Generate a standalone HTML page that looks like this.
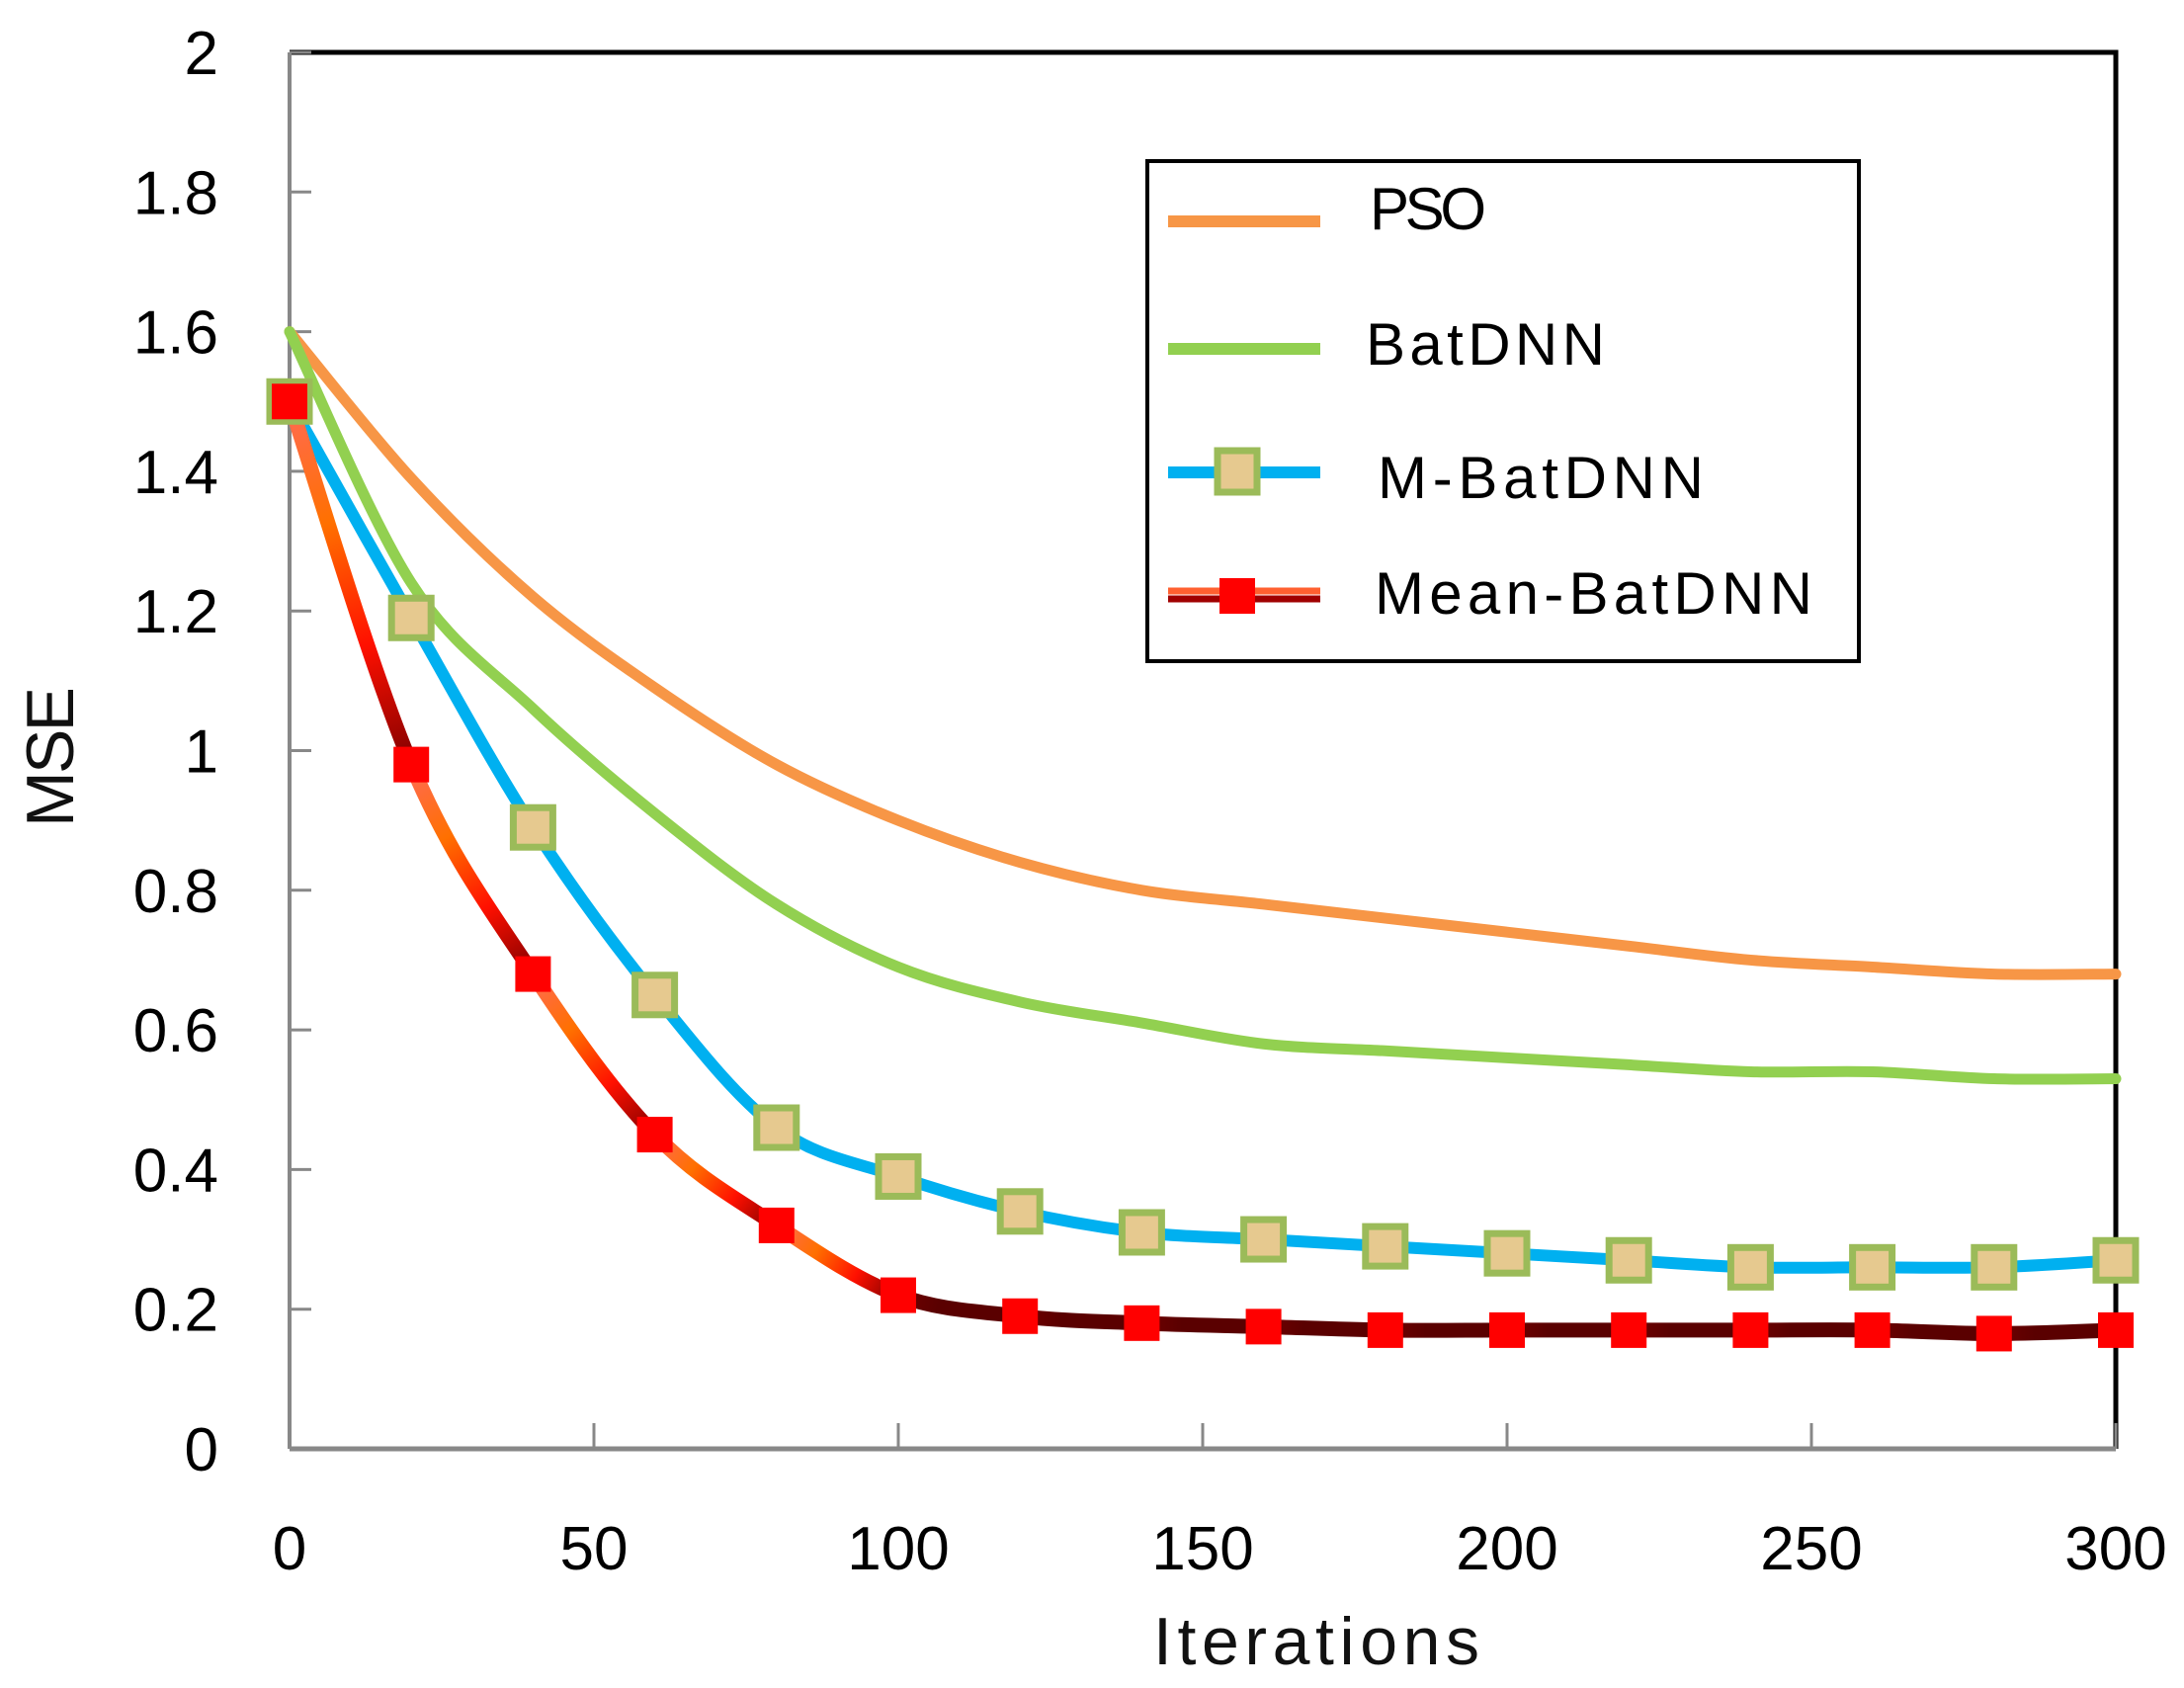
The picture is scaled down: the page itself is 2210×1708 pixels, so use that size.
<!DOCTYPE html>
<html><head><meta charset="utf-8"><style>
html,body{margin:0;padding:0;background:#fff;}
svg{display:block;font-family:"Liberation Sans",sans-serif;}
</style></head><body>
<svg id="chart" width="2210" height="1708" viewBox="0 0 2210 1708" xmlns="http://www.w3.org/2000/svg">
<defs id="defs"></defs>
<g id="axes"></g>
<g id="series"></g>
<g id="legend">
  <rect x="1161" y="163" width="720" height="506" fill="#fff" stroke="#000" stroke-width="4"/>
  <g>
    <line x1="1182" y1="224" x2="1336" y2="224" stroke="#f79646" stroke-width="12"/>
    <text x="1386" y="232" font-size="60" textLength="118" fill="#000">PSO</text>
  </g>
  <g>
    <line x1="1182" y1="353" x2="1336" y2="353" stroke="#92d050" stroke-width="12"/>
    <text x="1382" y="369" font-size="60" textLength="242" fill="#000">BatDNN</text>
  </g>
  <g>
    <line x1="1182" y1="478" x2="1336" y2="478" stroke="#00b0f0" stroke-width="12"/>
    <rect x="1232" y="456" width="40" height="42" fill="#e6c98f" stroke="#9bbb59" stroke-width="7"/>
    <text x="1394" y="504" font-size="60" textLength="330" fill="#000">M-BatDNN</text>
  </g>
  <g>
    <line x1="1182" y1="598" x2="1336" y2="598" stroke="#ff6030" stroke-width="7"/>
    <line x1="1182" y1="606" x2="1336" y2="606" stroke="#a00000" stroke-width="7"/>
    <rect x="1234" y="585" width="36" height="36" fill="#ff0000"/>
    <text x="1391" y="621" font-size="60" textLength="443" fill="#000">Mean-BatDNN</text>
  </g>
</g>
<text x="1332" y="1684" font-size="68" text-anchor="middle" fill="#111" textLength="330">Iterations</text>
<text transform="translate(74,766) rotate(-90)" font-size="68" text-anchor="middle" fill="#111" textLength="142">MSE</text>
</svg>
<script>
const xValues = [0,20,40,60,80,100,120,140,160,180,200,220,240,260,280,300];
const psoValues = [1.6,1.39,1.22,1.09,0.98,0.9,0.84,0.80,0.78,0.76,0.74,0.72,0.70,0.69,0.68,0.68];
const batdnnValues = [1.6,1.24,1.06,0.91,0.78,0.69,0.64,0.61,0.58,0.57,0.56,0.55,0.54,0.54,0.53,0.53];
const mBatdnnValues = [1.5,1.19,0.89,0.65,0.46,0.39,0.34,0.31,0.30,0.29,0.28,0.27,0.26,0.26,0.26,0.27];
const meanBatdnnValues = [1.5,0.98,0.68,0.45,0.32,0.22,0.19,0.18,0.175,0.17,0.17,0.17,0.17,0.17,0.165,0.17];
const xTicks = [0,50,100,150,200,250,300];
const yTicks = [0,0.2,0.4,0.6,0.8,1,1.2,1.4,1.6,1.8,2];
const yTickLabels = ["0","0.2","0.4","0.6","0.8","1","1.2","1.4","1.6","1.8","2"];

const NS="http://www.w3.org/2000/svg";
const L=293,R=2141,T=53,B=1466;
const sx=v=>L+(v-0)/(300-0)*(R-L);
const sy=v=>B-(v-0)/(2-0)*(B-T);
function mk(tag,attrs,parent){const e=document.createElementNS(NS,tag);for(const k in attrs)e.setAttribute(k,attrs[k]);parent.appendChild(e);return e;}
const axes=document.getElementById('axes'), series=document.getElementById('series'), defs=document.getElementById('defs');

let fr=mk('polyline',{points:`${L},${T} ${R},${T} ${R},${B}`,fill:'none',stroke:'#000','stroke-width':5},axes);


let ya=mk('line',{x1:L,y1:T,x2:L,y2:B,stroke:'#888','stroke-width':4},axes);


let xa=mk('line',{x1:L,y1:B,x2:R,y2:B,stroke:'#888','stroke-width':5},axes);


yTicks.forEach((v,i)=>{
  const t=mk('line',{x1:L,y1:sy(v),x2:L+22,y2:sy(v),stroke:'#888','stroke-width':3},axes);
  
  
  const tx=mk('text',{x:221,y:sy(v)+22,'font-size':62,'text-anchor':'end',fill:'#000'},axes);
  
  
  tx.textContent=yTickLabels[i];
});
xTicks.forEach(v=>{
  const t=mk('line',{x1:sx(v),y1:B,x2:sx(v),y2:B-26,stroke:'#888','stroke-width':3},axes);
  
  
  const tx=mk('text',{x:sx(v),y:1588,'font-size':62,'text-anchor':'middle',fill:'#000'},axes);
  
  
  tx.textContent=String(v);
});

function pts(vals){return xValues.map((x,i)=>[sx(x),sy(vals[i])]);}
function segPath(p,i){
  const p0=p[Math.max(i-1,0)],p1=p[i],p2=p[i+1],p3=p[Math.min(i+2,p.length-1)];
  const c1=[p1[0]+(p2[0]-p0[0])/6,p1[1]+(p2[1]-p0[1])/6];
  const c2=[p2[0]-(p3[0]-p1[0])/6,p2[1]-(p3[1]-p1[1])/6];
  return `M${p1[0]},${p1[1]} C${c1[0]},${c1[1]} ${c2[0]},${c2[1]} ${p2[0]},${p2[1]}`;
}
function fullPath(p){let d='';for(let i=0;i<p.length-1;i++){d+=(i===0?'':' ')+segPath(p,i).replace(/^M[^C]*/, i===0?`M${p[0][0]},${p[0][1]} `:'');}return d;}

const pp=pts(psoValues);
let l1=mk('path',{d:fullPath(pp),fill:'none',stroke:'#f79646','stroke-width':11,'stroke-linecap':'round'},series);


const bp=pts(batdnnValues);
let l2=mk('path',{d:fullPath(bp),fill:'none',stroke:'#92d050','stroke-width':11,'stroke-linecap':'round'},series);


const mp=pts(mBatdnnValues);
let l3=mk('path',{d:fullPath(mp),fill:'none',stroke:'#00b0f0','stroke-width':12,'stroke-linecap':'round'},series);



const rp=pts(meanBatdnnValues);
for(let i=0;i<rp.length-1;i++){
  const id='g'+i;
  const g=mk('linearGradient',{id:id,gradientUnits:'userSpaceOnUse',x1:rp[i][0],y1:rp[i][1],x2:rp[i+1][0],y2:rp[i+1][1]},defs);
  const cols=i<5?['#ff6a55','#ff7000','#ff1000','#800000']:['#700000','#5a0000','#5a0000','#5a0000'];
  cols.forEach((c,k)=>mk('stop',{offset:k/3,'stop-color':c},g));
  const s=mk('path',{d:segPath(rp,i),fill:'none',stroke:`url(#${id})`,'stroke-width':15},series);
  
  
}
mp.forEach(p=>{
  const r=mk('rect',{x:p[0]-20,y:p[1]-20,width:40,height:40,fill:'#e6c98f',stroke:'#9bbb59','stroke-width':7},series);
  
  
});
rp.forEach(p=>{
  const r=mk('rect',{x:p[0]-18,y:p[1]-18,width:36,height:36,fill:'#ff0000'},series);
  
  
});
</script>
</body></html>
